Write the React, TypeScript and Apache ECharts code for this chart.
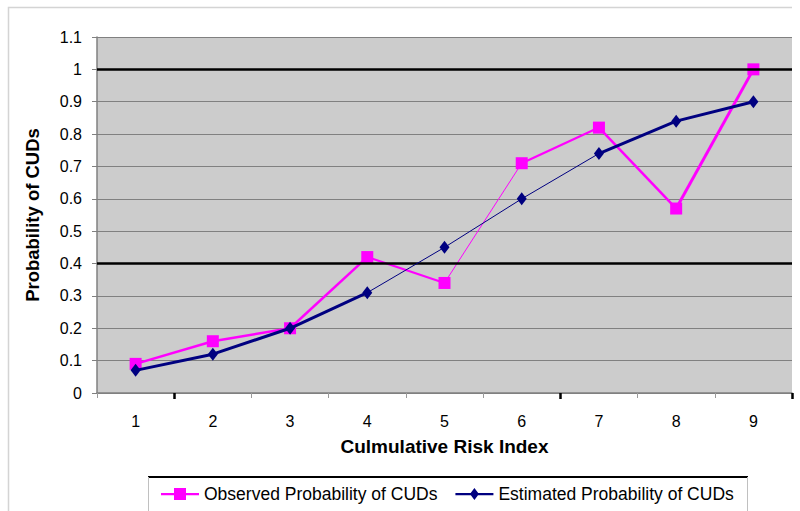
import React, { useEffect, useRef } from "react";
import * as echarts from "echarts";

const categories = ["1", "2", "3", "4", "5", "6", "7", "8", "9"];
const observedName = "Observed Probability of CUDs";
const estimatedName = "Estimated Probability of CUDs";
const observed = [0.09, 0.16, 0.2, 0.42, 0.34, 0.71, 0.82, 0.57, 1.0];
const estimated = [0.07, 0.12, 0.2, 0.31, 0.45, 0.6, 0.74, 0.84, 0.9];
const emphasisLevels = [0.4, 1.0];

// line thickness of each segment between consecutive points (style)
const observedWidths = [2.5, 2.5, 2.5, 2.2, 1, 2.2, 2.5, 3];
const estimatedWidths = [3, 3, 3, 1, 1, 1, 3, 3];

const MAGENTA = "#FF00FF";
const NAVY = "#000080";
const FONT = "'Liberation Sans', Arial, sans-serif";

function segmentSeries(values: number[], widths: number[], color: string, z: number) {
  return widths.map((w, i) => ({
    type: "line",
    name: `seg-${color}-${i}`,
    data: values.map((v, j) => (j === i || j === i + 1 ? v : null)),
    symbol: "none",
    showSymbol: false,
    connectNulls: false,
    silent: true,
    z,
    lineStyle: { color, width: w },
  }));
}

export default function App() {
  const ref = useRef<HTMLDivElement>(null);
  useEffect(() => {
    if (!ref.current) return;
    const chart = echarts.init(ref.current, undefined, { renderer: "svg" });
    const option: any = {
      animation: false,
      backgroundColor: "#FFFFFF",
      textStyle: { fontFamily: FONT },
      grid: {
        left: 97,
        right: 8,
        top: 37,
        bottom: 118,
        show: true,
        backgroundColor: "#CCCCCC",
        borderWidth: 0,
      },
      legend: {
        left: 161,
        top: 485,
        padding: 0,
        itemWidth: 38,
        itemHeight: 12,
        itemGap: 18,
        textStyle: { fontSize: 17.5, color: "#000", fontFamily: FONT },
        data: [
          {
            name: observedName,
            icon: "path://M0,5 L38,5 L38,7.2 L0,7.2 Z M13,0 L25,0 L25,12 L13,12 Z",
          },
          {
            name: estimatedName,
            icon: "path://M0,5 L38,5 L38,7.2 L0,7.2 Z M19,0 L23.5,6 L19,12 L14.5,6 Z",
          },
        ],
      },
      xAxis: [
        {
          type: "category",
          data: categories,
          boundaryGap: true,
          position: "bottom",
          axisLine: { show: true, lineStyle: { color: "#808080", width: 1.5 } },
          axisTick: { show: true, length: 5, lineStyle: { color: "#9A9A9A", width: 1 } },
          axisLabel: { fontSize: 16, color: "#000", margin: 20, fontFamily: FONT },
          splitLine: { show: false },
          name: "Culmulative Risk Index",
          nameLocation: "middle",
          nameGap: 44,
          nameTextStyle: { fontSize: 19, fontWeight: "bold", color: "#000", fontFamily: FONT },
        },
        {
          type: "category",
          data: categories,
          boundaryGap: true,
          position: "bottom",
          axisLine: { show: false },
          axisLabel: { show: false },
          splitLine: { show: false },
          axisTick: {
            show: true,
            length: 6,
            interval: (i: number) => i === 1 || i === 6,
            lineStyle: { color: "#000", width: 2.5 },
          },
        },
      ],
      yAxis: {
        type: "value",
        min: 0,
        max: 1.1,
        interval: 0.1,
        axisLine: { show: true, lineStyle: { color: "#808080", width: 1.5 } },
        axisTick: { show: true, length: 5, lineStyle: { color: "#808080" } },
        axisLabel: {
          fontSize: 16,
          color: "#000",
          margin: 15,
          fontFamily: FONT,
          formatter: (v: number) => String(parseFloat(v.toFixed(1))),
        },
        splitLine: { show: true, lineStyle: { color: "#808080", width: 1 } },
        name: "Probability of CUDs",
        nameLocation: "middle",
        nameGap: 55,
        nameTextStyle: { fontSize: 18.5, fontWeight: "bold", color: "#000", fontFamily: FONT },
      },
      graphic: [
        {
          type: "polyline",
          silent: true,
          shape: { points: [[8.5, 511], [8.5, 7.5], [792, 7.5]] },
          style: { stroke: "#D4D4D4", lineWidth: 1.5, fill: null },
        },
        {
          type: "line",
          silent: true,
          shape: { x1: 148, y1: 477, x2: 748, y2: 477 },
          style: { stroke: "#000", lineWidth: 2 },
        },
        {
          type: "line",
          silent: true,
          shape: { x1: 148.5, y1: 477, x2: 148.5, y2: 511 },
          style: { stroke: "#C0C0C0", lineWidth: 1 },
        },
        {
          type: "line",
          silent: true,
          shape: { x1: 747.5, y1: 477, x2: 747.5, y2: 511 },
          style: { stroke: "#C0C0C0", lineWidth: 1 },
        },
      ],
      series: [
        {
          type: "line",
          name: "levels",
          data: [],
          silent: true,
          z: 1,
          markLine: {
            silent: true,
            symbol: "none",
            label: { show: false },
            lineStyle: { color: "#000", width: 2.5, type: "solid" },
            data: emphasisLevels.map((v) => ({ yAxis: v })),
          },
        },
        ...segmentSeries(observed, observedWidths, MAGENTA, 3),
        {
          type: "line",
          name: observedName,
          data: observed,
          symbol: "rect",
          symbolSize: 12,
          showSymbol: true,
          z: 4,
          itemStyle: { color: MAGENTA },
          lineStyle: { width: 0, opacity: 0 },
        },
        ...segmentSeries(estimated, estimatedWidths, NAVY, 5),
        {
          type: "line",
          name: estimatedName,
          data: estimated,
          symbol: "diamond",
          symbolSize: [10, 13],
          showSymbol: true,
          z: 6,
          itemStyle: { color: NAVY },
          lineStyle: { width: 0, opacity: 0 },
        },
      ],
    };
    chart.setOption(option);
    return () => chart.dispose();
  }, []);
  return (
    <div
      ref={ref}
      style={{ position: "absolute", left: 0, top: 0, width: 800, height: 511 }}
    />
  );
}
